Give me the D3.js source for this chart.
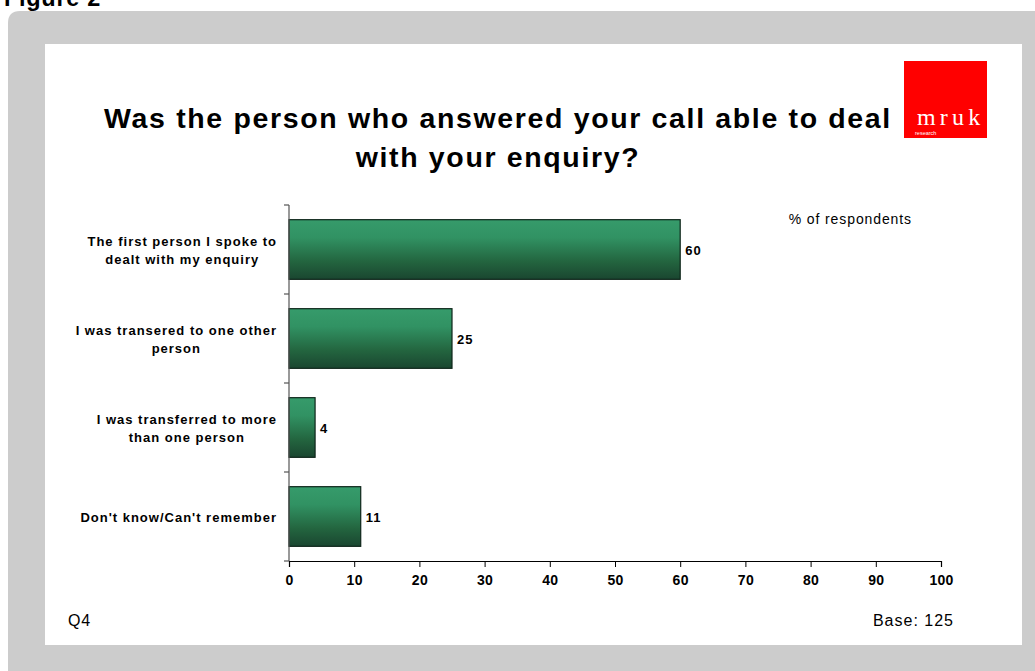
<!DOCTYPE html>
<html>
<head>
<meta charset="utf-8">
<script src="https://cdn.jsdelivr.net/npm/d3@7/dist/d3.min.js"></script>
<style>
  html, body { margin: 0; padding: 0; background: #fff; }
  svg { display: block; }
</style>
</head>
<body>
<svg id="chart" width="1035" height="671"></svg>
<script>
// Survey answers and their shares (% of respondents)
const categories = [
  ["The first person I spoke to", "dealt with my enquiry"],
  ["I was transered to one other", "person"],
  ["I was transferred to more", "than one person"],
  ["Don't know/Can't remember"]
];
const values = [60, 25, 4, 11];
const xTicks = [0, 10, 20, 30, 40, 50, 60, 70, 80, 90, 100];
const titleLines = ["Was the person who answered your call able to deal", "with your enquiry?"];

const svg = d3.select("#chart");
const font = "Arial, 'Liberation Sans', Helvetica, sans-serif";

// Page heading
svg.append("text").attr("x", 4).attr("y", 6)
  .attr("font-family", font).attr("font-weight", "bold").attr("font-size", 23.5)
  .attr("letter-spacing", 0.7).attr("fill", "#000").text("Figure 2");

// Grey frame with rounded top-left corner
svg.append("path")
  .attr("d", "M8,671 L8,23 Q8,11 20,11 L1035,11 L1035,671 Z")
  .attr("fill", "#cccccc");
// White panel
svg.append("rect").attr("x", 45).attr("y", 44).attr("width", 977).attr("height", 601)
  .attr("fill", "#ffffff");

// Logo
const logo = svg.append("g");
logo.append("rect").attr("x", 904).attr("y", 61).attr("width", 83).attr("height", 77).attr("fill", "#ff0000");
logo.append("text").attr("x", 917).attr("y", 125)
  .attr("font-family", "'Liberation Serif', 'DejaVu Serif', serif").attr("font-size", 24)
  .attr("letter-spacing", 4.2).attr("fill", "#fff").text("mruk");
logo.append("text").attr("x", 915).attr("y", 134.5)
  .attr("font-family", font).attr("font-size", 5.5).attr("fill", "#fff").text("research");

// Title
svg.append("text").attr("font-family", font).attr("font-weight", "bold").attr("font-size", 28.5)
  .attr("letter-spacing", 1.65).attr("text-anchor", "middle").attr("fill", "#000")
  .selectAll("tspan").data(titleLines).join("tspan")
  .attr("x", 498).attr("y", (d, i) => 128 + i * 39).text(d => d);

// Scales
const x = d3.scaleLinear().domain([0, 100]).range([289, 941]);
const y = d3.scaleBand().domain(d3.range(categories.length)).range([205, 561]).paddingInner(0.33).paddingOuter(0.165);

// Bar gradient
const defs = svg.append("defs");
const grad = defs.append("linearGradient").attr("id", "barGrad").attr("x1", 0).attr("y1", 0).attr("x2", 0).attr("y2", 1);
grad.append("stop").attr("offset", "0%").attr("stop-color", "#369b6b");
grad.append("stop").attr("offset", "30%").attr("stop-color", "#319263");
grad.append("stop").attr("offset", "70%").attr("stop-color", "#23653f");
grad.append("stop").attr("offset", "100%").attr("stop-color", "#1a4630");

// Bars
svg.append("g").selectAll("rect").data(values).join("rect")
  .attr("x", x(0)).attr("y", (d, i) => y(i))
  .attr("width", d => x(d) - x(0)).attr("height", y.bandwidth())
  .attr("fill", "url(#barGrad)").attr("stroke", "#0e2519").attr("stroke-width", 1.2);

// Value labels
svg.append("g").selectAll("text").data(values).join("text")
  .attr("x", d => x(d) + 5).attr("y", (d, i) => y(i) + y.bandwidth() / 2 + 5)
  .attr("font-family", font).attr("font-weight", "bold").attr("font-size", 13)
  .attr("letter-spacing", 1).attr("fill", "#000").text(d => d);

// X axis
const xAxis = svg.append("g").attr("transform", "translate(0,561)")
  .call(d3.axisBottom(x).tickValues(xTicks).tickSize(6).tickPadding(8).tickFormat(d3.format("d")));
xAxis.select(".domain").attr("stroke", "#000").attr("stroke-width", 1.2);
xAxis.selectAll(".tick line").attr("stroke", "#000");
xAxis.selectAll("text").attr("font-family", font).attr("font-weight", "bold").attr("font-size", 14)
  .attr("letter-spacing", 0.3).attr("fill", "#000");

// Y axis: vertical line with ticks at category boundaries
const yAxis = svg.append("g");
yAxis.append("line").attr("x1", 289).attr("x2", 289).attr("y1", 205).attr("y2", 561)
  .attr("stroke", "#555").attr("stroke-width", 1.2);
const bounds = d3.range(categories.length + 1).map(i => 205 + i * (356 / categories.length));
yAxis.selectAll(".yt").data(bounds).join("line").attr("class", "yt")
  .attr("x1", 284).attr("x2", 289).attr("y1", d => d).attr("y2", d => d)
  .attr("stroke", "#555").attr("stroke-width", 1.2);

// Category labels: each block is right-aligned against the axis, lines centred within it
const labelRight = 277;
const labels = svg.append("g").attr("font-family", font).attr("font-weight", "bold").attr("font-size", 13)
  .attr("letter-spacing", 1).attr("fill", "#000").attr("text-anchor", "middle");
categories.forEach((lines, i) => {
  const cy = y(i) + y.bandwidth() / 2;
  const t = labels.append("text");
  const h = 18;
  const spans = t.selectAll("tspan").data(lines).join("tspan")
    .attr("y", (d, j) => cy + 5 + (j - (lines.length - 1) / 2) * h)
    .text(d => d);
  const maxW = d3.max(spans.nodes(), n => n.getComputedTextLength());
  spans.attr("x", labelRight - maxW / 2);
});

// Annotations
svg.append("text").attr("x", 912).attr("y", 224).attr("text-anchor", "end")
  .attr("font-family", font).attr("font-size", 14).attr("letter-spacing", 0.9)
  .attr("fill", "#000").text("% of respondents");
svg.append("text").attr("x", 68).attr("y", 626)
  .attr("font-family", font).attr("font-size", 16).attr("letter-spacing", 0.8)
  .attr("fill", "#000").text("Q4");
svg.append("text").attr("x", 954).attr("y", 626).attr("text-anchor", "end")
  .attr("font-family", font).attr("font-size", 16).attr("letter-spacing", 1)
  .attr("fill", "#000").text("Base: 125");
</script>
</body>
</html>
